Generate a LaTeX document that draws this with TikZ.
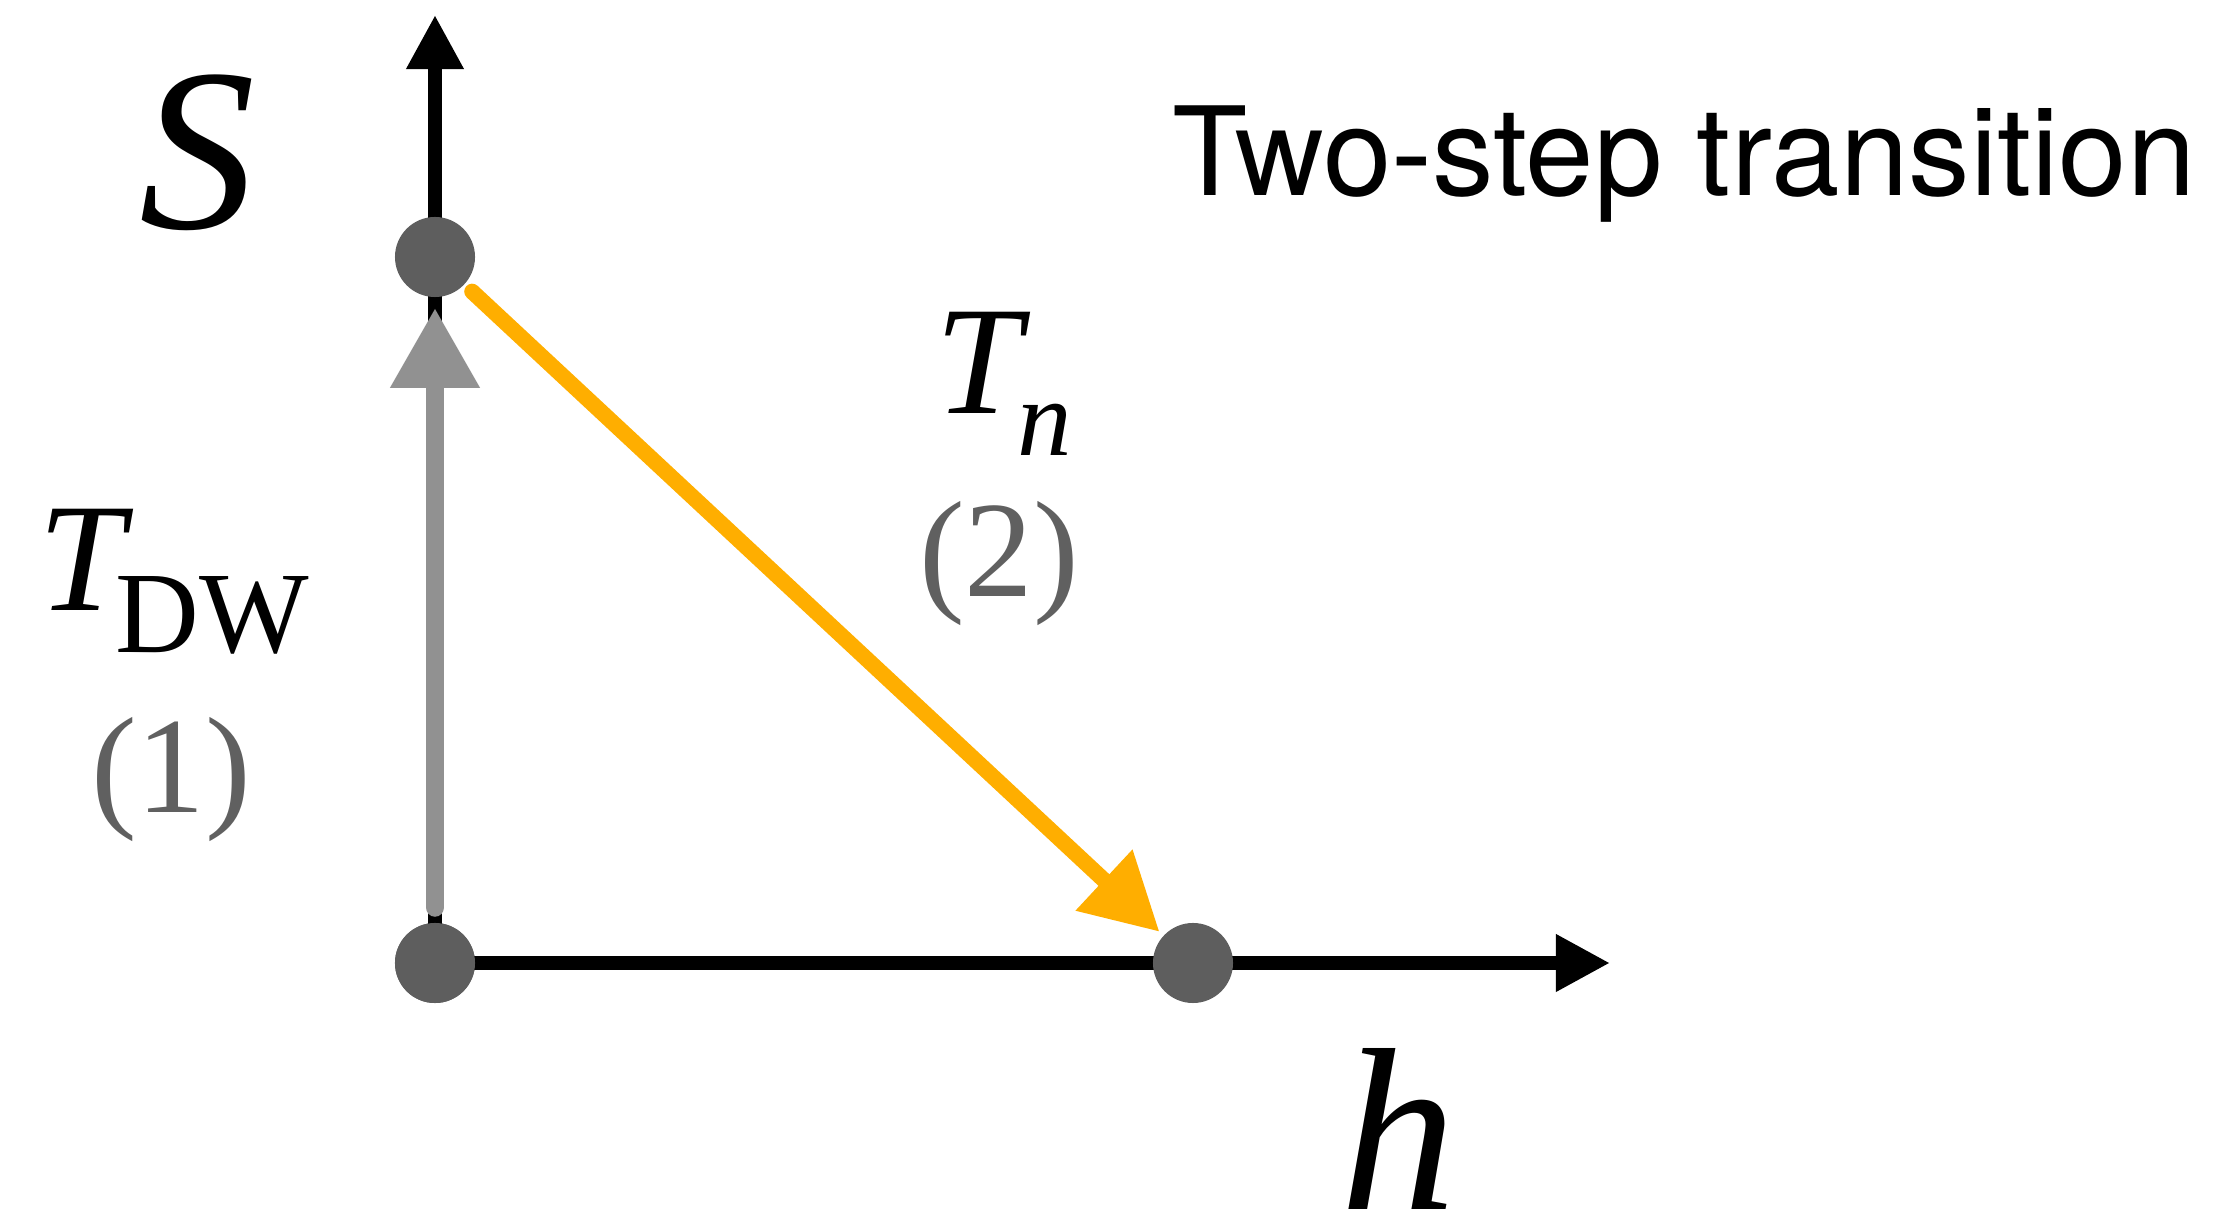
\documentclass[tikz,border=0pt]{standalone}
\usepackage{fontspec}
\setmainfont{Liberation Serif}
\newfontfamily\helv{TeX Gyre Heros}
\usetikzlibrary{arrows.meta}
\definecolor{dotgray}{HTML}{5E5E5E}
\definecolor{arrgray}{HTML}{919191}
\definecolor{orng}{HTML}{FFAE00}
\definecolor{numgray}{HTML}{606060}
\begin{document}
\begin{tikzpicture}[x=0.01cm,y=-0.01cm,
  dot/.style={circle,fill=dotgray,draw=none,minimum size=0.8cm,inner sep=0pt},
  axis/.style={line width=3.7pt,-{Triangle[length=15.4pt,width=15.4pt]}},
  grayarr/.style={arrgray,line width=5.4pt,line cap=round,-{Triangle[length=22.8pt,width=24pt]}},
  orangearr/.style={orng,line width=4.5pt,line cap=round,-{Triangle[length=21.6pt,width=22.5pt]}},
  lbl/.style={inner sep=0pt,outer sep=0pt},
  numlbl/.style={inner sep=0pt,text=numgray,font=\fontsize{39}{39}\selectfont}]
\useasboundingbox (0,0) rectangle (2214,1225);
\coordinate (ytip) at (435,15);
\coordinate (xtip) at (1610,963);
\node[dot] (O) at (435,963) {};
% axes
\draw[axis] (O.center) -- (ytip);
\draw[axis] (O.center) -- (xtip);
\node[dot] (A) at (435,257) {};
\node[dot] (B) at (1193,963) {};
\node[dot] at (O) {};
% transitions
\draw[grayarr,shorten <=0.15cm,shorten >=0.1cm] (O.north) -- (A.south);
\draw[orangearr,shorten <=0.1cm,shorten >=0.05cm] (A) -- (B);
% labels
\node[lbl,anchor=center] (S) at (198,153) {\fontsize{66}{66}\selectfont\itshape S};
\node[lbl,anchor=base] (h) at (1399,1210) {\fontsize{66}{66}\selectfont\itshape h};
\node[lbl,anchor=base west] (Tn) at (935,414) {\fontsize{44}{44}\selectfont\itshape T\kern-1pt\raisebox{-11.7pt}{\fontsize{31}{31}\selectfont n}};
\node[numlbl] (n2) at (999,564) {(2)};
\node[lbl,anchor=base west] (Tdw) at (38,611) {\fontsize{44}{44}\selectfont\itshape T\kern-2.5pt\raisebox{-11.7pt}{\fontsize{33}{33}\selectfont\upshape DW}};
\node[numlbl] (n1) at (171,780) {(1)};
\node[lbl,anchor=base west] (title) at (1172,196) {\helv\fontsize{35}{35}\selectfont Two-step transition};
\end{tikzpicture}
\end{document}
